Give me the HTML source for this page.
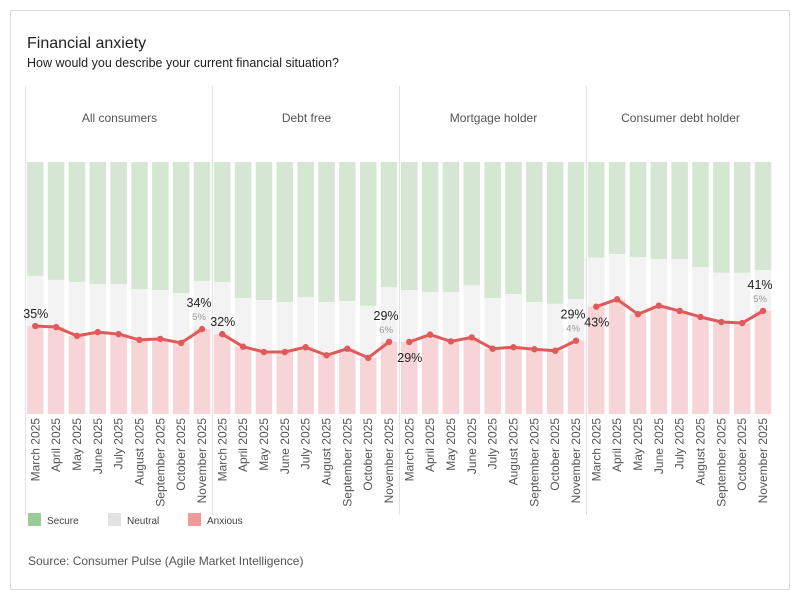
<!DOCTYPE html>
<html><head><meta charset="utf-8"><style>
body{margin:0;background:#fff;font-family:"Liberation Sans",Arial,sans-serif;}
svg{display:block}
</style></head><body>
<svg id="chart" width="800" height="600" xmlns="http://www.w3.org/2000/svg">
<rect x="10.5" y="10.5" width="779" height="579" fill="#fff" stroke="#ddd"/>
<text x="27" y="48" font-size="16" fill="#222">Financial anxiety</text>
<text x="27" y="67" font-size="12.5" fill="#222">How would you describe your current financial situation?</text>
<line x1="25.5" x2="25.5" y1="86" y2="515" stroke="#e2e2e2"/>
<g id="panels"></g>
<g>
<rect x="28" y="513" width="13" height="13" fill="#9ccc96"/>
<text x="47" y="524" font-size="10" fill="#444">Secure</text>
<rect x="108" y="513" width="13" height="13" fill="#e2e2e2"/>
<text x="127" y="524" font-size="10" fill="#444">Neutral</text>
<rect x="188" y="513" width="13" height="13" fill="#ee9a9a"/>
<text x="207" y="524" font-size="10" fill="#444">Anxious</text>
</g>
<text x="28" y="565" font-size="12" fill="#555">Source: Consumer Pulse (Agile Market Intelligence)</text>
</svg>
<script>
const months = ["March 2025","April 2025","May 2025","June 2025","July 2025","August 2025","September 2025","October 2025","November 2025"];
const segments = ["All consumers","Debt free","Mortgage holder","Consumer debt holder"];
const anxious = [
 [34.9,34.5,31.0,32.5,31.7,29.4,29.8,28.2,33.7],
 [31.7,26.7,24.6,24.6,26.5,23.3,25.9,22.3,28.6],
 [28.6,31.5,28.8,30.4,25.9,26.5,25.7,25.1,29.1],
 [42.6,45.5,39.6,43.0,40.9,38.5,36.5,36.1,40.9]
];
const neutral = [
 [19.9,18.7,21.4,19.1,19.9,20.2,19.4,19.8,19.1],
 [20.7,19.3,20.6,19.8,19.9,21.1,18.9,20.6,21.8],
 [20.6,16.9,19.6,20.8,20.1,21.1,18.7,18.6,16.5],
 [19.4,18.0,22.7,18.5,20.6,19.8,19.5,19.9,16.2]
];
const changeLabels = ["5%","6%","4%","5%"];

const NS="http://www.w3.org/2000/svg";
const g=document.getElementById('panels');
const top0=162, bot=414, H=bot-top0;
const px0=26, pw=187, band=20.85, bw=16.5;
function y(v){return bot - v/100*H;}
function xl(p,i){return px0+p*pw+1+band*i;}
function xc(p,i){return xl(p,i)+bw/2;}
function el(tag,attrs,parent){const e=document.createElementNS(NS,tag);for(const k in attrs)e.setAttribute(k,attrs[k]);(parent||g).appendChild(e);return e;}

for(let p=0;p<segments.length;p++){
  const pg=el('g',{});
  
  
  if(p>0){
    const ln=el('line',{x1:px0+p*pw-0.5,x2:px0+p*pw-0.5,y1:86,y2:515,stroke:'#e2e2e2'},pg);
    
    
  }
  const ht=el('text',{x:px0+p*pw+pw/2,y:122,'font-size':12,fill:'#555','text-anchor':'middle'},pg);
  ht.textContent=segments[p];
  
  
  for(let i=0;i<9;i++){
    const x=xl(p,i);
    const a=anxious[p][i], n=neutral[p][i];
    const s=el('rect',{x:x,y:top0,width:bw,height:y(a+n)-top0,fill:'#d5e6d3'},pg);
    
    
    const ne=el('rect',{x:x,y:y(a+n),width:bw,height:y(a)-y(a+n),fill:'#f3f3f3'},pg);
    
    
    const an=el('rect',{x:x,y:y(a),width:bw,height:bot-y(a),fill:'#f7d4d5'},pg);
    
    
    const lb=el('text',{transform:`translate(${xc(p,i)+4},418) rotate(-90)`,'font-size':12,fill:'#555','text-anchor':'end'},pg);
    lb.textContent=months[i];
    
    
  }
  const pts=anxious[p].map((v,i)=>xc(p,i)+','+y(v)).join(' ');
  const pl=el('polyline',{points:pts,fill:'none',stroke:'#e05a5c','stroke-width':3,'stroke-linejoin':'round'},pg);
  
  
  for(let i=0;i<9;i++){
    const c=el('circle',{cx:xc(p,i),cy:y(anxious[p][i]),r:3.2,fill:'#e05a5c'},pg);
    
    
  }
  const first=anxious[p][0], last=anxious[p][8];
  const below = p>=2;
  const fl=el('text',{x:xc(p,0)-12,y: below? y(first)+20 : y(first)-8,'font-size':12.5,fill:'#222'},pg);
  fl.textContent=Math.round(first)+'%';
  
  
  const ll=el('text',{x:xc(p,8)-3,y:y(last)-22,'font-size':12.5,fill:'#222','text-anchor':'middle'},pg);
  ll.textContent=Math.round(last)+'%';
  
  
  const cl=el('text',{x:xc(p,8)-3,y:y(last)-9,'font-size':9.5,fill:'#999','text-anchor':'middle'},pg);
  cl.textContent=changeLabels[p];
  
  
}
</script>
</body></html>
